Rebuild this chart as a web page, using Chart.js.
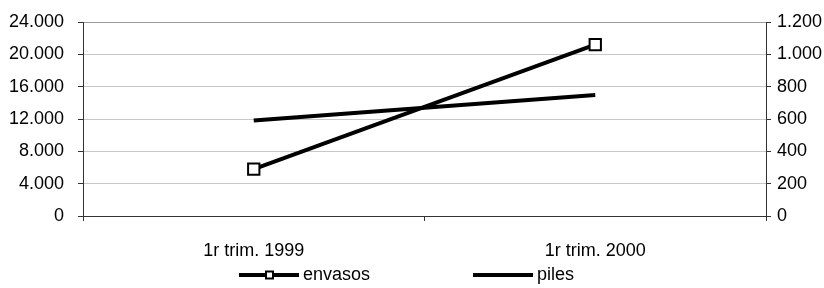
<!DOCTYPE html>
<html lang="ca">
<head>
  <meta charset="UTF-8">
  <title>envasos i piles</title>
  <style>
    body, html {
      margin: 0;
      padding: 0;
      background: #ffffff;
    }
    #chart-container {
      width: 824px;
      height: 288px;
    }
  </style>
</head>
<body>
  <div id="chart-container">
    <canvas id="trimChart"></canvas>
  </div>

  <script src="https://cdn.jsdelivr.net/npm/chart.js"></script>
  <script>
    // data
    const categories = ['1r trim. 1999', '1r trim. 2000'];
    const envasos = [5800, 21200];   // left axis
    const piles = [590, 748];        // right axis
    const leftTicks = [0, 4000, 8000, 12000, 16000, 20000, 24000];
    const rightTicks = [0, 200, 400, 600, 800, 1000, 1200];

    const FONT = "'Liberation Sans', Arial, sans-serif";
    const FONT_SIZE = 18;
    const AXIS = '#333333';
    const GRID = '#c8c8c8';

    // "24000" -> "24.000"
    const fmt = v => String(v).replace(/\B(?=(\d{3})+(?!\d))/g, '.');

    // fixed axis widths, and no extra room for the half labels at the ends
    const fitY = w => s => {
      s.width = w;
      s.paddingTop = 0;
      s.paddingBottom = 0;
    };

    // simple Excel-like legend under the axis
    const bottomLegend = {
      id: 'bottomLegend',
      afterDraw(chart) {
        const ctx = chart.ctx;
        const y = 275;
        const startX = 239;
        const colW = 234;
        ctx.save();
        ctx.font = FONT_SIZE + 'px ' + FONT;
        ctx.textBaseline = 'middle';
        chart.data.datasets.forEach((ds, i) => {
          const x = startX + i * colW;
          ctx.strokeStyle = ds.borderColor;
          ctx.lineWidth = 4;
          ctx.beginPath();
          ctx.moveTo(x, y);
          ctx.lineTo(x + 60, y);
          ctx.stroke();
          if (ds.pointRadius > 0) {
            ctx.fillStyle = '#ffffff';
            ctx.lineWidth = 2;
            ctx.fillRect(x + 27, y - 3.5, 7, 7);
            ctx.strokeRect(x + 27, y - 3.5, 7, 7);
          }
          ctx.fillStyle = '#000000';
          ctx.fillText(ds.label, x + 64, y);
        });
        ctx.restore();
      }
    };

    const ctx = document.getElementById('trimChart').getContext('2d');
    new Chart(ctx, {
      type: 'line',
      data: {
        labels: categories,
        datasets: [
          {
            label: 'envasos',
            data: envasos,
            yAxisID: 'y',
            borderColor: '#000000',
            borderWidth: 4,
            pointStyle: 'rect',
            pointRadius: 8,
            pointBorderWidth: 2,
            pointBorderColor: '#000000',
            pointBackgroundColor: '#ffffff',
            tension: 0
          },
          {
            label: 'piles',
            data: piles,
            yAxisID: 'y1',
            borderColor: '#000000',
            borderWidth: 4,
            pointRadius: 0,
            tension: 0
          }
        ]
      },
      options: {
        responsive: true,
        maintainAspectRatio: false,
        animation: false,
        layout: {
          padding: { top: 22, left: 0, right: 0, bottom: 30 }
        },
        scales: {
          x: {
            offset: true,
            grid: {
              offset: true,
              drawOnChartArea: false,
              tickLength: 5,
              tickColor: AXIS
            },
            border: { color: AXIS, width: 1 },
            ticks: {
              color: '#000000',
              padding: 19,
              maxRotation: 0,
              font: { family: FONT, size: FONT_SIZE }
            },
            afterFit: s => { s.height = 42; }
          },
          y: {
            position: 'left',
            min: 0,
            max: 24000,
            afterBuildTicks: s => { s.ticks = leftTicks.map(v => ({ value: v })); },
            grid: {
              color: c => (c.tick && c.tick.value === 24000 ? '#9a9a9a' : GRID),
              tickColor: AXIS,
              tickLength: 5
            },
            border: { color: AXIS, width: 1 },
            ticks: {
              color: '#000000',
              padding: 14,
              font: { family: FONT, size: FONT_SIZE },
              callback: v => fmt(v)
            },
            afterFit: fitY(83)
          },
          y1: {
            position: 'right',
            min: 0,
            max: 1200,
            afterBuildTicks: s => { s.ticks = rightTicks.map(v => ({ value: v })); },
            grid: {
              drawOnChartArea: false,
              tickColor: AXIS,
              tickLength: 5
            },
            border: { color: AXIS, width: 1 },
            ticks: {
              color: '#000000',
              padding: 6,
              font: { family: FONT, size: FONT_SIZE },
              callback: v => fmt(v)
            },
            afterFit: fitY(58)
          }
        },
        plugins: {
          legend: { display: false },
          tooltip: { enabled: false }
        }
      },
      plugins: [bottomLegend]
    });
  </script>
</body>
</html>
